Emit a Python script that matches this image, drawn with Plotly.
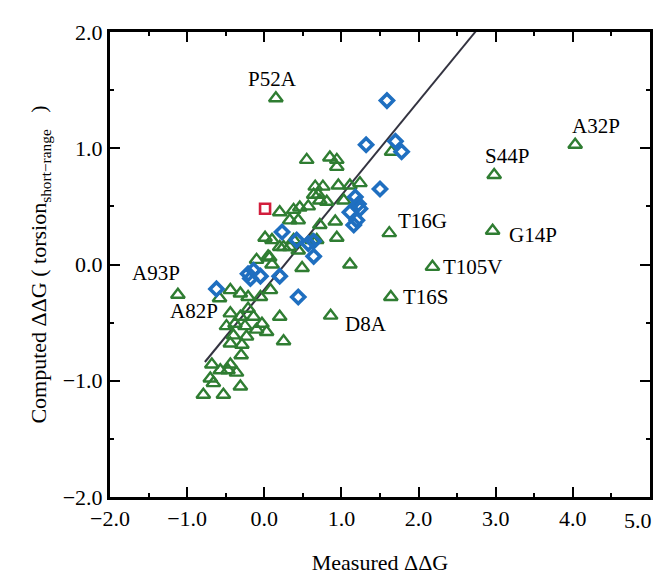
import plotly.graph_objects as go

# ---- data ----
labeled_names = ["P52A", "A32P", "S44P", "G14P", "T16G", "T105V", "T16S", "D8A", "A93P", "A82P"]
labeled_x = [0.15, 4.03, 2.98, 2.96, 1.62, 2.18, 1.64, 0.86, -1.12, -0.58]
labeled_y = [1.43, 1.03, 0.77, 0.29, 0.27, -0.02, -0.28, -0.44, -0.26, -0.29]

tri_x = [0.55, 0.85, 0.94, 0.94, 0.66, 0.76, 0.96, 1.24, 1.11, 0.64, 0.72, 0.81, 1.03, 0.70,
         0.20, 0.38, 0.46, 0.57, 0.33, 0.44, 0.72, 0.92, 0.94, 0.01, 0.10, 0.25, 0.38, 0.68,
         0.20, 0.33, 0.44, 0.62, 0.05, -0.10, 0.07, 0.10, 0.49, 1.11, 1.65,
         -0.44, -0.31, -0.21, -0.05, 0.08, 0.20, -0.44, -0.31, -0.21, -0.14, -0.03, 0.03,
         -0.10, -0.25, -0.38, -0.49, -0.40, -0.23, 0.25, -0.44, -0.29,
         -0.68, -0.44, -0.70, -0.66, -0.47, -0.36, -0.31, -0.79, -0.53, -0.57, -0.30]
tri_y = [0.90, 0.92, 0.90, 0.84, 0.67, 0.67, 0.68, 0.70, 0.68, 0.60, 0.55, 0.54, 0.55, 0.60,
         0.45, 0.47, 0.49, 0.50, 0.38, 0.38, 0.34, 0.37, 0.23, 0.23, 0.21, 0.15, 0.21, 0.21,
         0.15, 0.15, 0.12, 0.21, 0.07, 0.04, 0.06, 0.00, -0.03, 0.00, 0.97,
         -0.22, -0.25, -0.28, -0.28, -0.22, -0.45, -0.42, -0.45, -0.38, -0.45, -0.51, -0.58,
         -0.56, -0.53, -0.51, -0.53, -0.61, -0.62, -0.66, -0.68, -0.69,
         -0.86, -0.86, -0.98, -1.02, -0.91, -0.93, -1.05, -1.12, -1.12, -0.91, -0.78]

dia_x = [1.59, 1.32, 1.70, 1.78, 1.50, 1.18, 1.24, 1.11, 1.20, 1.16, 1.22,
         0.23, 0.42, 0.57, 0.64, 0.64, -0.14, -0.21, -0.18, -0.05, 0.20, -0.62, 0.44]
dia_y = [1.41, 1.03, 1.06, 0.97, 0.65, 0.58, 0.48, 0.45, 0.38, 0.34, 0.52,
         0.28, 0.21, 0.18, 0.20, 0.07, -0.05, -0.08, -0.12, -0.10, -0.10, -0.21, -0.28]

sq_x = [0.01]
sq_y = [0.48]

fit_slope = 0.81
fit_intercept = -0.215
fit_x = [-0.77, 2.74]

x_ticks = [-2, -1, 0, 1, 2, 3, 4, 5]
x_ticktext = ["−2.0", "−1.0", "0.0", "1.0", "2.0", "3.0", "4.0", ""]
x_last_label = "5.0"
y_ticks = [-2, -1, 0, 1, 2]

# ---- figure ----
FONT = "Liberation Serif"
green = "#2f7d32"
blue = "#1f6fc0"
red = "#d21e3c"

fig = go.Figure()

fit_y = [fit_slope * v + fit_intercept for v in fit_x]
fig.add_trace(go.Scatter(x=fit_x, y=fit_y, mode="lines",
                         line=dict(color="#333340", width=2), hoverinfo="skip"))

fig.add_trace(go.Scatter(x=tri_x + labeled_x, y=tri_y + labeled_y, mode="markers",
                         marker=dict(symbol="triangle-up-open", size=12, color=green,
                                     line=dict(width=2.4, color=green))))
fig.add_trace(go.Scatter(x=dia_x, y=dia_y, mode="markers",
                         marker=dict(symbol="diamond-open", size=10, color=blue,
                                     line=dict(width=3.6, color=blue))))
fig.add_trace(go.Scatter(x=sq_x, y=sq_y, mode="markers",
                         marker=dict(symbol="square-open", size=10, color=red,
                                     line=dict(width=2.6, color=red))))

# label placements (anchor, pixel shifts)
label_style = {
    "P52A": ("center", -3, 19),
    "A32P": ("center", 21, 19),
    "S44P": ("center", 13, 19),
    "G14P": ("left", 14, -4),
    "T16G": ("left", 7, 12),
    "T105V": ("left", 9, 0),
    "T16S": ("left", 10, 0),
    "D8A": ("left", 12, -8),
    "A93P": ("right", 4, 22),
    "A82P": ("right", 0, -13),
}
for name, x, y in zip(labeled_names, labeled_x, labeled_y):
    anc, xs, ys = label_style[name]
    fig.add_annotation(x=x, y=y, text=name, showarrow=False, xanchor=anc,
                       yanchor="middle", xshift=xs, yshift=ys,
                       font=dict(family=FONT, size=21, color="black"))

# last x tick label, nudged left so it stays inside the page
fig.add_annotation(x=x_ticks[-1], y=0, xref="x", yref="paper", text=x_last_label,
                   showarrow=False, xanchor="right", yanchor="middle",
                   xshift=4, yshift=-23,
                   font=dict(family=FONT, size=22, color="black"))

axis_common = dict(
    showgrid=False, zeroline=False, showline=True, linecolor="black", linewidth=3,
    mirror="ticks", ticks="inside", ticklen=10, tickwidth=2, tickcolor="black",
    tickfont=dict(family=FONT, size=22, color="black"),
    minor=dict(ticks="inside", ticklen=4, tickwidth=2, tickcolor="black", dtick=0.5),
    automargin=False,
)
fig.update_xaxes(range=[-2, 5], tickvals=x_ticks, ticktext=x_ticktext, **axis_common,
                 title=dict(text="Measured ΔΔG", font=dict(family=FONT, size=22, color="black"),
                            standoff=27))
fig.update_yaxes(range=[-2, 2], tickvals=y_ticks, tickformat=".1f", **axis_common,
                 title=dict(text="Computed ΔΔG ( torsion<sub>short−range</sub>   )",
                            font=dict(family=FONT, size=22, color="black"), standoff=10))

fig.update_layout(
    width=656, height=567,
    margin=dict(l=102, r=14, t=24, b=78),
    paper_bgcolor="white", plot_bgcolor="white",
    showlegend=False,
)

fig.write_html("out.html")
